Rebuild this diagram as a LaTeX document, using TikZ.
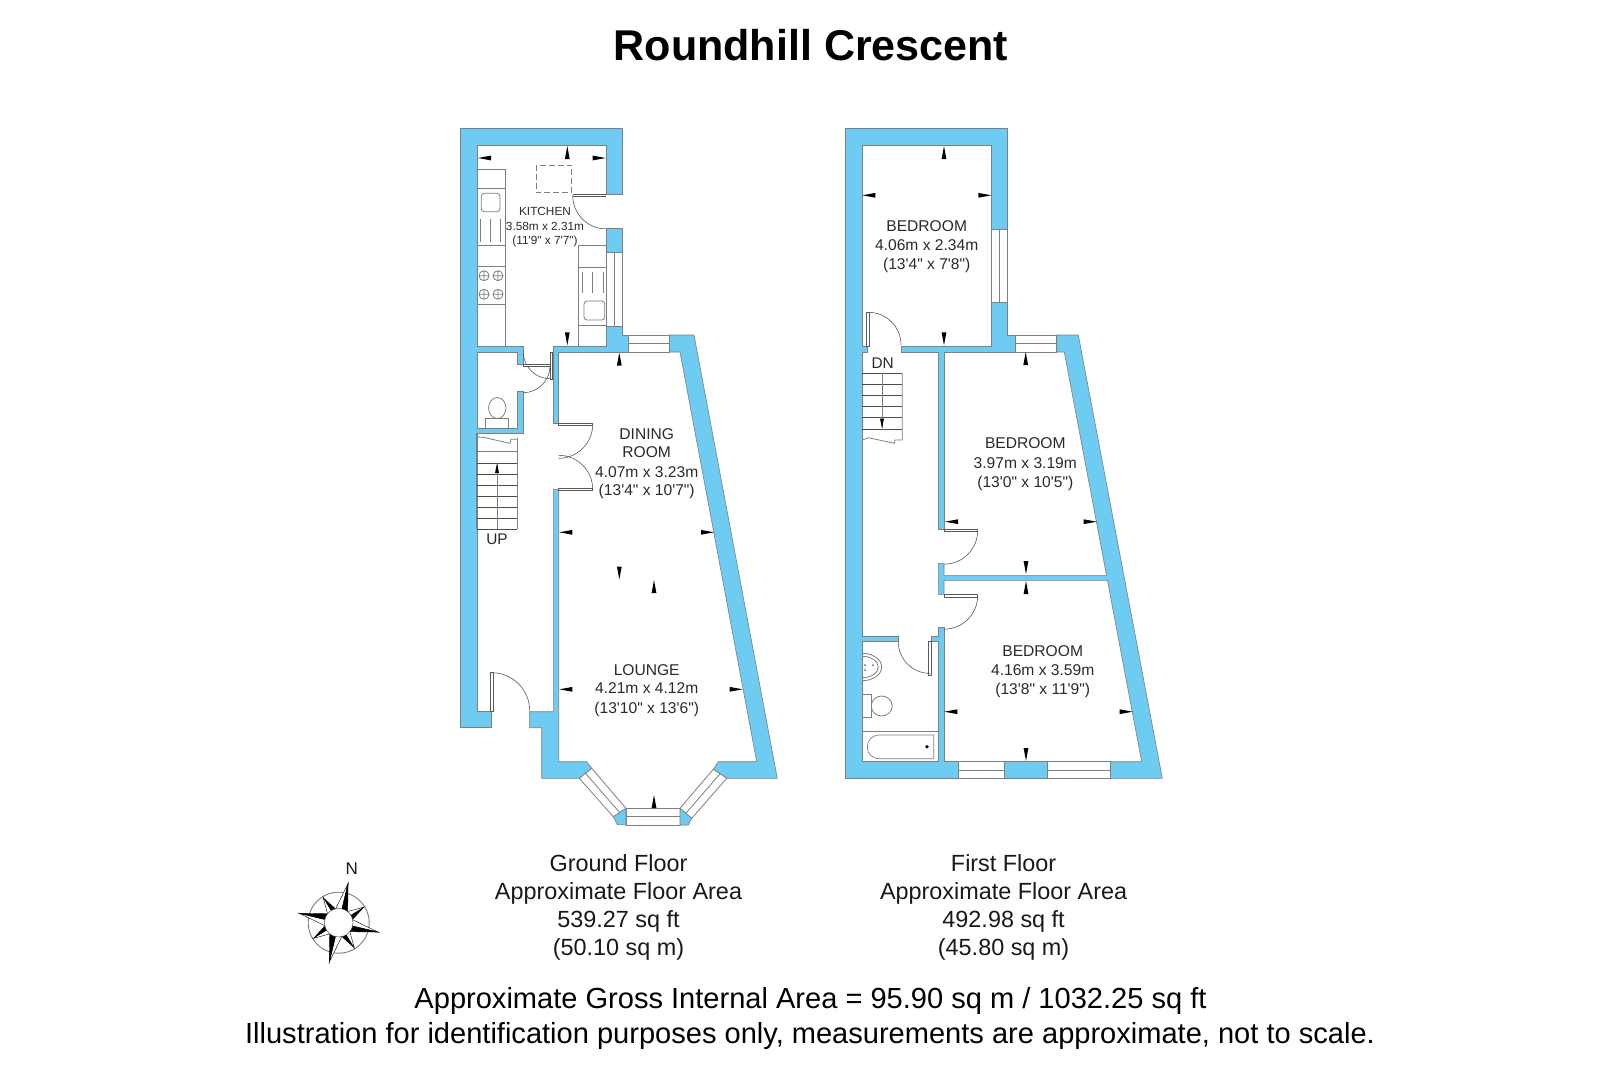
\documentclass[tikz,border=0pt]{standalone}
\usepackage{fontspec}
\newfontfamily\lsans{Liberation Sans}
\definecolor{wallblue}{HTML}{6ECBF2}
\definecolor{edgegrey}{HTML}{7F7F7F}
\definecolor{inktext}{HTML}{2A2A2A}
\tikzset{
  wall/.style={fill=wallblue,draw=edgegrey,line width=0.6pt,line join=miter},
  glass/.style={fill=white,draw=edgegrey,line width=0.8pt},
  fitline/.style={draw=edgegrey,line width=0.8pt},
  fixture/.style={draw=edgegrey,line width=0.7pt,fill=white},
  swing/.style={draw=black!65,line width=0.6pt},
  leaf/.style={fill=white,draw=black!65,line width=0.6pt},
  basetext/.style={anchor=base,inner sep=0pt,align=center},
  bigroom/.style={basetext,text=inktext,font=\lsans\fontsize{15.6}{15.6}\selectfont},
  smallroom/.style={basetext,text=inktext,font=\lsans\fontsize{11.8}{11.8}\selectfont},
  stairword/.style={basetext,text=inktext,font=\lsans\fontsize{15.4}{15.4}\selectfont},
  floorlabel/.style={basetext,text=black!90,font=\lsans\fontsize{23.4}{23.4}\selectfont},
  footline/.style={basetext,text=black,font=\lsans\fontsize{29.05}{29.05}\selectfont},
  titletext/.style={basetext,text=black,font=\lsans\bfseries\fontsize{43.05}{43.05}\selectfont},
}
% x, y of the tip, rotation: 0 tip left, 90 tip down, 180 tip right, 270 tip up
\newcommand\dimtip[3]{\fill[black,shift={(#1,#2)},rotate=#3] (0,0) -- (13,-2.4) -- (13,2.4) -- cycle;}
\begin{document}
\begin{tikzpicture}[x=1pt,y=-1pt]
\useasboundingbox (0,0) rectangle (1620,1080);
\fill[white] (0,0) rectangle (1620,1080);

\node[titletext] (title) at (811,60.7) {Roundhill Crescent};

%% ---------- GROUND FLOOR ----------
% kitchen fittings
\draw[fixture] (477,169.3) rectangle (505,346);
\draw[fitline] (477,188.3) -- (505,188.3) (477,245) -- (505,245) (477,266.7) -- (505,266.7) (477,304.3) -- (505,304.3);
\draw[fitline,rounded corners=3pt] (481.3,193.3) rectangle (500,211.7);
\draw[fitline] (480.7,219.3) -- (480.7,241.7) (490.7,219.3) -- (490.7,241.7) (500.7,219.3) -- (500.7,241.7);
\foreach \hx/\hy in {484/275.7,498/275.7,484/294.3,498/294.3}{
  \draw[fitline] (\hx,\hy) circle[radius=5pt] (\hx-5,\hy) -- (\hx+5,\hy) (\hx,\hy-5) -- (\hx,\hy+5);
}
\draw[fixture] (578.3,245.7) rectangle (606,346);
\draw[fitline] (578.3,267.3) -- (606,267.3) (578.3,325) -- (606,325);
\draw[fitline] (582.7,271.7) -- (582.7,293.3) (592.7,271.7) -- (592.7,293.3) (603.3,271.7) -- (603.3,293.3);
\draw[fitline,rounded corners=3pt] (584,301) rectangle (604.7,320);
\draw[edgegrey,line width=0.8pt,dash pattern=on 6pt off 3pt] (536,165) rectangle (571.7,192.7);

% walls
\draw[wall] (491.7,727.7) -- (460,727.7) -- (460,128.5) -- (622.7,128.5) -- (622.7,194.7) -- (606,194.7) -- (606,145.5) -- (477,145.5) -- (477,346) -- (523.3,346) -- (523.3,364) -- (517.3,364) -- (517.3,352) -- (477,352) -- (477,428.3) -- (517.3,428.3) -- (517.3,391.7) -- (523,391.7) -- (523,433.3) -- (477,433.3) -- (477,711.7) -- (491.7,711.7) -- cycle;
\draw[wall] (606,228) rectangle (622.7,252.7);
\draw[wall] (606,326) -- (622.7,326) -- (622.7,335) -- (628.7,335) -- (628.7,352) -- (558.7,352) -- (558.7,423.3) -- (553.3,423.3) -- (553.3,346) -- (606,346) -- cycle;
\draw[wall] (669,352) -- (669,335) -- (694,335) -- (777.3,778.3) -- (726.7,778.3) -- (713.3,769.3) -- (718.3,761.7) -- (756.7,761.7) -- (680,352) -- cycle;
\draw[wall] (558.7,489.3) -- (553.3,489.3) -- (553.3,711.7) -- (529.3,711.7) -- (529.3,727.7) -- (541.7,727.7) -- (541.7,778.3) -- (579.3,778.3) -- (591.7,768.3) -- (586.7,761.7) -- (558.7,761.7) -- cycle;

% windows
\draw[glass] (606,252.7) rectangle (622.7,326) (614.4,252.7) -- (614.4,326);
\draw[glass] (628.7,335) rectangle (669,352) (628.7,343.5) -- (669,343.5);
\draw[glass] (626,808.3) rectangle (680,825) (626,816.7) -- (680,816.7);
\draw[glass] (591.7,768.3) -- (626,808.3) -- (613.3,816.7) -- (579.3,778.3) -- cycle (585.5,773.3) -- (619.6,812.5);
\draw[glass] (713.3,769.3) -- (680,808.3) -- (691.7,818.3) -- (726.7,778.3) -- cycle (720,773.8) -- (685.9,813.3);
\draw[wall] (626,808.3) -- (613.3,816.7) -- (617.3,824.5) -- (626,825) -- cycle;
\draw[wall] (680,808.3) -- (691.7,818.3) -- (688.3,825) -- (680,825) -- cycle;

% doors
\draw[swing] (572.7,195.5) arc[start angle=180,end angle=270,radius=33.4pt];
\fill[white] (572.7,194.7) rectangle (606,196.7);
\draw[leaf] (572.7,194.7) -- (606,194.7) (572.7,196.7) -- (606,196.7);
\draw[leaf] (550,352) rectangle (552.7,379);
\draw[swing] (523.3,352) arc[start angle=180,end angle=270,radius=26.7pt];
\draw[leaf] (523.3,364) rectangle (550,366.7);
\draw[swing] (550,366) arc[start angle=0,end angle=-90,radius=26.7pt];
\draw[leaf] (558.7,423.3) rectangle (592.7,425.3);
\draw[swing] (592.7,424.3) arc[start angle=0,end angle=-90,radius=34pt];
\draw[leaf] (558.7,488.3) rectangle (592.7,490.3);
\draw[swing] (592.7,489.3) arc[start angle=0,end angle=90,radius=34pt];
\draw[leaf] (490.7,672.7) rectangle (493.3,711.7);
\draw[swing] (491.7,672.7) arc[start angle=90,end angle=0,radius=38pt];

% WC
\draw[fitline] (497.3,408) ellipse[x radius=8.7pt,y radius=10.5pt];
\draw[fixture] (485.3,418.3) rectangle (508.3,428.3);

% stairs
\draw[fitline] (476.7,433.3) -- (476.7,529.3) (517.3,438) -- (517.3,529.3);
\draw[fitline] (476.7,451.7) -- (517.3,451.7);
\foreach \ty in {463.3,474,485,496.3,507.3,518.3,529.3}{\draw[black!70,line width=0.6pt] (476.7,\ty) -- (517.3,\ty);}
\draw[fitline] (477,437) -- (483.3,437.3) -- (510,443.3) -- (511,439.3) -- (517.3,439.3);
\draw[fitline] (497,529.3) -- (497,463.3);
\fill[black] (497,463.3) -- (499,473) -- (495,473) -- cycle;
\node[stairword] (upword) at (497,544.2) {UP};

% dimension tips, ground floor
\dimtip{478}{158}{0}
\dimtip{605.7}{158}{180}
\dimtip{567.3}{146}{270}
\dimtip{567.3}{345.3}{90}
\dimtip{619.3}{352.7}{270}
\dimtip{559.3}{532.3}{0}
\dimtip{714}{532.3}{180}
\dimtip{619.3}{579.5}{90}
\dimtip{654}{580}{270}
\dimtip{559.3}{689.3}{0}
\dimtip{742.7}{689.3}{180}
\dimtip{654}{795}{270}

% room labels
\node[smallroom] (kitA) at (545,215.9) {KITCHEN};
\node[smallroom] (kitB) at (545,230.2) {3.58m x 2.31m};
\node[smallroom] (kitC) at (545,244.9) {(11'9" x 7'7")};
\node[bigroom] (dinA) at (646.7,439.4) {DINING};
\node[bigroom] (dinB) at (646.7,457.8) {ROOM};
\node[bigroom] (dinC) at (646.7,477) {4.07m x 3.23m};
\node[bigroom] (dinD) at (646.7,495.8) {(13'4" x 10'7")};
\node[bigroom] (lonA) at (646.7,675) {LOUNGE};
\node[bigroom] (lonB) at (646.7,693.8) {4.21m x 4.12m};
\node[bigroom] (lonC) at (646.7,713) {(13'10" x 13'6")};

%% ---------- FIRST FLOOR ----------
% bathroom fittings
\draw[fitline] (862.3,731.3) -- (938.3,731.3);
\draw[fixture] (933.7,735) -- (880,735) .. controls (872,735) and (867.3,740) .. (867.3,747) .. controls (867.3,754) and (872,758.7) .. (880,758.7) -- (933.7,758.7) -- cycle;
\fill[black] (927,746.7) circle[radius=1.8pt];
\draw[fitline] (862.3,653.3) arc[start angle=90,end angle=-90,x radius=19.4pt,y radius=13.7pt];
\draw[fitline] (862.3,656.3) arc[start angle=90,end angle=-90,x radius=16pt,y radius=10.7pt];
\fill[black!60] (865,665) circle[radius=1pt] (873,665) circle[radius=1pt] (865,670) circle[radius=1pt];
\draw[fitline] (881.7,706) ellipse[x radius=10.5pt,y radius=10pt];
\draw[fixture] (862.3,694.3) rectangle (871.7,717.3);

% walls
\draw[wall] (845,128.3) -- (1007.7,128.3) -- (1007.7,229.3) -- (991.3,229.3) -- (991.3,145.3) -- (862.3,145.3) -- (862.3,346) -- (867,346) -- (867,352) -- (862.3,352) -- (862.3,636) -- (898.3,636) -- (898.3,641.7) -- (862.3,641.7) -- (862.3,761.7) -- (938.3,761.7) -- (938.3,641.7) -- (931.7,641.7) -- (931.7,636) -- (938.3,636) -- (938.3,627.7) -- (944,627.7) -- (944,761.7) -- (958.3,761.7) -- (958.3,778.3) -- (845,778.3) -- cycle;
\draw[wall] (1007.7,302.7) -- (991.3,302.7) -- (991.3,346) -- (901,346) -- (901,352) -- (938.3,352) -- (938.3,529) -- (944,529) -- (944,352) -- (1015.3,352) -- (1015.3,335) -- (1007.7,335) -- cycle;
\draw[wall] (1056.7,352) -- (1056.7,335) -- (1078.3,335) -- (1162.3,778.3) -- (1110.3,778.3) -- (1110.3,761.7) -- (1141.7,761.7) -- (1107.4,580.3) -- (944,580.3) -- (944,594.3) -- (938.3,594.3) -- (938.3,563.3) -- (944,563.3) -- (944,575.3) -- (1106.5,575.3) -- (1064.3,352) -- cycle;
\draw[wall] (1004,761.7) rectangle (1047.3,778.3);

% windows
\draw[glass] (991.3,229.3) rectangle (1007.7,302.7) (999.7,229.3) -- (999.7,302.7);
\draw[glass] (1015.3,335) rectangle (1056.7,352) (1015.3,343.5) -- (1056.7,343.5);
\draw[glass] (958.3,761.7) rectangle (1004,778.3) (958.3,770) -- (1004,770);
\draw[glass] (1047.3,761.7) rectangle (1110.3,778.3) (1047.3,770) -- (1110.3,770);

% doors
\draw[leaf] (866.7,312.3) rectangle (869.7,346);
\draw[swing] (868.5,312.3) arc[start angle=90,end angle=0,radius=32.5pt];
\draw[leaf] (944,529) rectangle (977.7,531.7);
\draw[swing] (977.7,530.5) arc[start angle=0,end angle=-90,radius=33.7pt];
\draw[leaf] (944,594.3) rectangle (977.7,597);
\draw[swing] (977.7,595.5) arc[start angle=0,end angle=-90,radius=33.7pt];
\draw[leaf] (928.3,641.7) rectangle (931,675);
\draw[swing] (898.3,641.7) arc[start angle=180,end angle=270,radius=31.7pt];

% stairs
\foreach \ty in {373.3,384.3,395.3,406.3,417.7,429}{\draw[black!70,line width=0.6pt] (862.3,\ty) -- (902.3,\ty);}
\draw[fitline] (902.3,373.3) -- (902.3,440) -- (895,440) -- (894.3,443.3) -- (868.3,437.7) -- (862.3,440);
\draw[fitline] (882,373.3) -- (882,428.3);
\fill[black] (882,428.3) -- (884,418.5) -- (880,418.5) -- cycle;
\node[stairword] (dnword) at (882.7,368.4) {DN};

% dimension tips, first floor
\dimtip{944}{146}{270}
\dimtip{862.3}{195.3}{0}
\dimtip{991.3}{195.3}{180}
\dimtip{944}{345.3}{90}
\dimtip{1025.7}{352}{270}
\dimtip{945}{521.7}{0}
\dimtip{1096.7}{521.7}{180}
\dimtip{1026}{574}{90}
\dimtip{1026}{581}{270}
\dimtip{944.3}{711.7}{0}
\dimtip{1132.7}{711.7}{180}
\dimtip{1026}{761}{90}

% room labels
\node[bigroom] (bedAa) at (926.7,231.2) {BEDROOM};
\node[bigroom] (bedAb) at (926.7,250) {4.06m x 2.34m};
\node[bigroom] (bedAc) at (926.7,269.2) {(13'4" x 7'8")};
\node[bigroom] (bedBa) at (1025.3,448.5) {BEDROOM};
\node[bigroom] (bedBb) at (1025.3,468) {3.97m x 3.19m};
\node[bigroom] (bedBc) at (1025.3,487) {(13'0" x 10'5")};
\node[bigroom] (bedCa) at (1042.7,656) {BEDROOM};
\node[bigroom] (bedCb) at (1042.7,675) {4.16m x 3.59m};
\node[bigroom] (bedCc) at (1042.7,694.3) {(13'8" x 11'9")};

%% ---------- COMPASS ----------
\begin{scope}[shift={(338.7,922.7)},y=1pt]
  \draw[edgegrey,line width=0.9pt] (0,0) circle[radius=30.5pt];
  \foreach \a in {31.6,121.6,211.6,301.6}{
    \draw[black,line width=0.4pt,fill=white] (\a:30) -- (\a+28:12) -- (0,0) -- cycle;
    \fill[black] (\a:30) -- (\a-28:12) -- (0,0) -- cycle;
  }
  \foreach \a in {76.6,166.6,256.6,346.6}{
    \draw[black,line width=0.4pt,fill=white] (\a:40.5) -- (\a+30:13) -- (0,0) -- cycle;
    \draw[black,line width=0.4pt,fill=black] (\a:40.5) -- (\a-30:13) -- (0,0) -- cycle;
  }
  \draw[black!70,line width=0.5pt,fill=white] (0,0) circle[radius=14.2pt];
\end{scope}
\node[basetext,text=black!90,font=\lsans\fontsize{17}{17}\selectfont] (northmark) at (351.7,874.2) {N};

%% ---------- FLOOR AREA LABELS ----------
\node[floorlabel] (gfA) at (618.5,871.6) {Ground Floor};
\node[floorlabel] (gfB) at (618.5,899.6) {Approximate Floor Area};
\node[floorlabel] (gfC) at (618.5,927.6) {539.27 sq ft};
\node[floorlabel] (gfD) at (618.5,955.8) {(50.10 sq m)};
\node[floorlabel] (ffA) at (1003.6,871.6) {First Floor};
\node[floorlabel] (ffB) at (1003.6,899.6) {Approximate Floor Area};
\node[floorlabel] (ffC) at (1003.6,927.6) {492.98 sq ft};
\node[floorlabel] (ffD) at (1003.6,955.8) {(45.80 sq m)};

\node[footline] (gross) at (810.5,1008.8) {Approximate Gross Internal Area = 95.90 sq m / 1032.25 sq ft};
\node[footline] (disclaim) at (810,1043.3) {Illustration for identification purposes only, measurements are approximate, not to scale.};
\end{tikzpicture}
\end{document}
